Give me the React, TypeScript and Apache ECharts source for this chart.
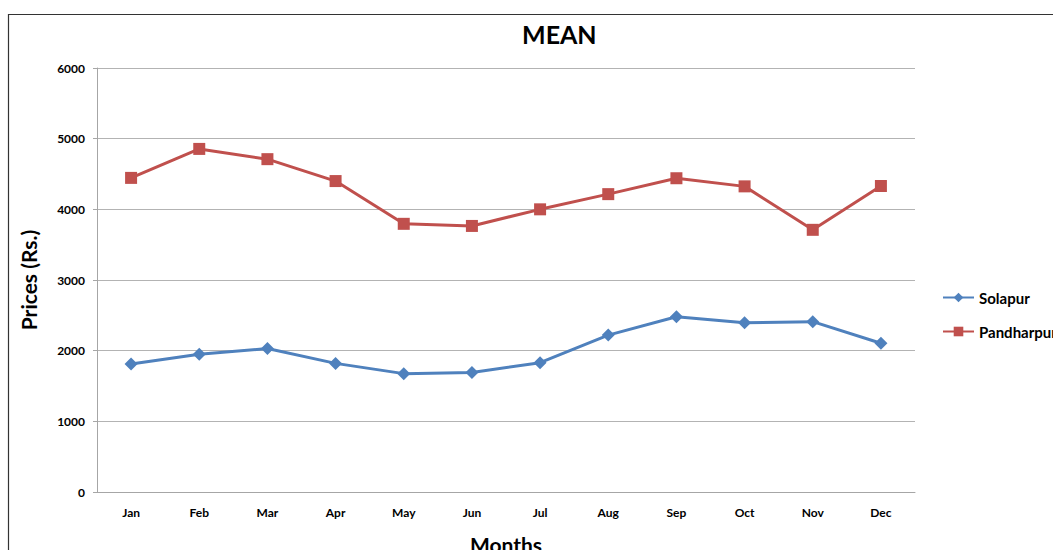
import React, { useEffect, useRef } from "react";
import * as echarts from "echarts";

const months = ["Jan", "Feb", "Mar", "Apr", "May", "Jun", "Jul", "Aug", "Sep", "Oct", "Nov", "Dec"];
const solapur = [1810, 1950, 2030, 1820, 1675, 1690, 1830, 2220, 2480, 2395, 2410, 2105];
const pandharpur = [4445, 4855, 4710, 4400, 3795, 3765, 4000, 4215, 4440, 4325, 3710, 4330];
const yTicks = { min: 0, max: 6000, interval: 1000 };

const FONT = "Lato, 'Open Sans', sans-serif";

export default function App() {
  const ref = useRef<HTMLDivElement>(null);
  useEffect(() => {
    if (!ref.current) return;
    const chart = echarts.init(ref.current, undefined, { renderer: "svg" });
    chart.setOption({
      animation: false,
      backgroundColor: "#ffffff",
      textStyle: { fontFamily: FONT },
      title: {
        text: "MEAN",
        left: 517,
        top: 16,
        textStyle: { fontSize: 25, fontWeight: "bold", color: "#000", fontFamily: FONT },
      },
      graphic: [
        {
          type: "rect",
          shape: { x: 8.5, y: 14.5, width: 1200, height: 700 },
          style: { fill: "none", stroke: "#333", lineWidth: 1.2 },
          silent: true,
          z: -1,
        },
      ],
      legend: {
        orient: "vertical",
        left: 937,
        top: 285,
        itemGap: 19,
        itemWidth: 31,
        itemHeight: 12,
        textStyle: { fontSize: 15, fontWeight: "bold", color: "#000", fontFamily: FONT },
        data: ["Solapur", "Pandharpur"],
      },
      grid: { left: 97, right: 138, top: 68, bottom: 58, containLabel: false, outerBoundsMode: "none" },
      xAxis: {
        type: "category",
        data: months,
        boundaryGap: true,
        name: "Months",
        nameLocation: "middle",
        nameGap: 42,
        nameTextStyle: { fontSize: 21, fontWeight: "bold", color: "#000", fontFamily: FONT },
        axisLine: { lineStyle: { color: "#a6a6a6", width: 1 } },
        axisTick: { show: false },
        axisLabel: { fontSize: 12, fontWeight: "bold", color: "#000", margin: 14, fontFamily: FONT },
      },
      yAxis: {
        type: "value",
        min: yTicks.min,
        max: yTicks.max,
        interval: yTicks.interval,
        name: "Prices (Rs.)",
        nameLocation: "middle",
        nameGap: 58,
        nameTextStyle: { fontSize: 21, fontWeight: "bold", color: "#000", fontFamily: FONT },
        axisLine: { show: true, lineStyle: { color: "#a6a6a6", width: 1 } },
        axisTick: { show: true, length: 4, lineStyle: { color: "#a6a6a6" } },
        axisLabel: {
          fontSize: 12,
          fontWeight: "bold",
          color: "#000",
          margin: 12,
          fontFamily: FONT,
          formatter: (v: number) => String(v),
        },
        splitLine: { lineStyle: { color: "#b3b3b3", width: 1 } },
      },
      series: [
        {
          name: "Solapur",
          type: "line",
          data: solapur,
          symbol: "diamond",
          symbolSize: 13,
          color: "#4f81bd",
          lineStyle: { width: 3, color: "#4f81bd" },
          itemStyle: { color: "#4f81bd" },
        },
        {
          name: "Pandharpur",
          type: "line",
          data: pandharpur,
          symbol: "rect",
          symbolSize: 12,
          color: "#c0504d",
          lineStyle: { width: 3, color: "#c0504d" },
          itemStyle: { color: "#c0504d" },
        },
      ],
    });
    return () => chart.dispose();
  }, []);
  return (
    <div
      ref={ref}
      style={{ position: "absolute", left: 0, top: 0, width: 1053, height: 550, overflow: "hidden" }}
    />
  );
}
